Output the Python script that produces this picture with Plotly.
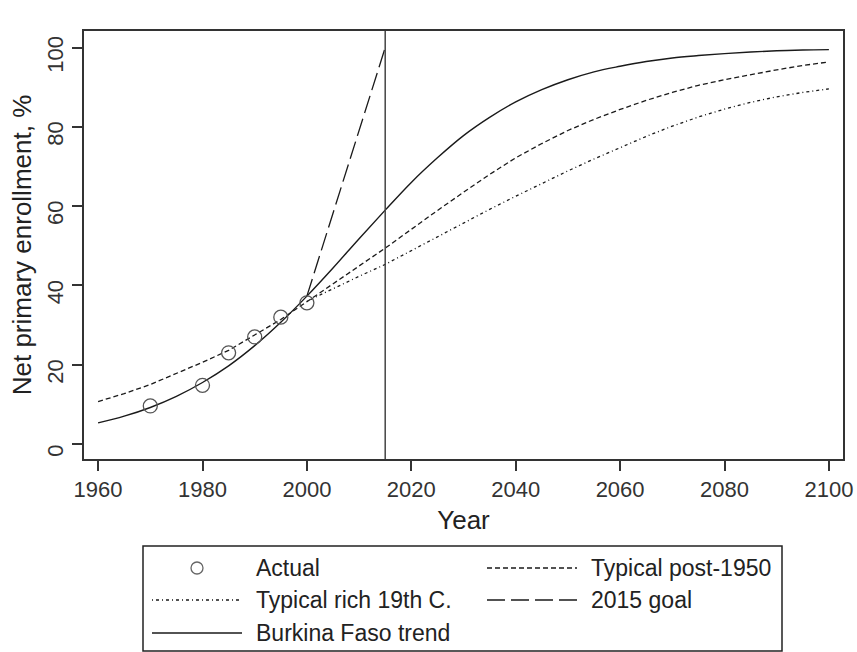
import plotly.graph_objects as go

# ---------------- data ----------------
actual_years = [1970, 1980, 1985, 1990, 1995, 2000]
actual_vals = [9.6, 14.8, 23.0, 27.0, 32.0, 35.6]

trend_years = [1960, 1965, 1970, 1975, 1980, 1985, 1990, 1995, 2000, 2005, 2010,
               2015, 2020, 2025, 2030, 2035, 2040, 2045, 2050, 2055, 2060, 2065,
               2070, 2075, 2080, 2085, 2090, 2095, 2100]
burkina_vals = [5.3, 7.0, 9.2, 12.0, 15.5, 19.7, 24.8, 30.7, 37.3, 44.4, 51.8,
                59.0, 66.0, 72.2, 77.8, 82.4, 86.3, 89.4, 91.9, 93.9, 95.3, 96.5,
                97.4, 98.0, 98.5, 98.9, 99.2, 99.4, 99.5]
post1950_vals = [10.7, 12.7, 15.0, 17.7, 20.6, 23.6, 27.4, 31.4, 35.9, 40.3, 44.9,
                 49.4, 54.2, 58.9, 63.5, 68.0, 72.2, 75.8, 79.1, 81.9, 84.4, 86.7,
                 88.7, 90.5, 91.9, 93.2, 94.4, 95.5, 96.4]

rich_years = [2000, 2005, 2010, 2015, 2020, 2025, 2030, 2035, 2040, 2045, 2050,
              2055, 2060, 2065, 2070, 2075, 2080, 2085, 2090, 2095, 2100]
rich_vals = [36.0, 39.2, 42.3, 45.3, 48.8, 52.3, 55.8, 59.2, 62.5, 65.8, 68.9,
             71.9, 74.8, 77.6, 80.2, 82.5, 84.5, 86.2, 87.6, 88.7, 89.6]

goal_years = [2000, 2015]
goal_vals = [37.3, 100]
goal_year = 2015

x_ticks = [1960, 1980, 2000, 2020, 2040, 2060, 2080, 2100]
y_ticks = [0, 20, 40, 60, 80, 100]

legend_labels = ["Actual", "Typical post-1950", "Typical rich 19th C.",
                 "2015 goal", "Burkina Faso trend"]

# ---------------- style ----------------
W, H = 857, 652
ML, MR, MT, MB = 84, 14, 31, 193
FONT = "Liberation Sans, Arial, sans-serif"
INK = "#1a1a1a"
DASH_POST = "5px,3px"
DASH_RICH = "1px,3px,3px,3px"
DASH_GOAL = "18px,6px"

fig = go.Figure()

fig.add_trace(go.Scatter(x=trend_years, y=post1950_vals, mode="lines",
                         line=dict(color=INK, width=1.3, dash=DASH_POST),
                         name=legend_labels[1], showlegend=False))
fig.add_trace(go.Scatter(x=rich_years, y=rich_vals, mode="lines",
                         line=dict(color=INK, width=1.3, dash=DASH_RICH),
                         name=legend_labels[2], showlegend=False))
fig.add_trace(go.Scatter(x=goal_years, y=goal_vals, mode="lines",
                         line=dict(color=INK, width=1.3, dash=DASH_GOAL),
                         name=legend_labels[3], showlegend=False))
fig.add_trace(go.Scatter(x=trend_years, y=burkina_vals, mode="lines",
                         line=dict(color=INK, width=1.4, shape="spline"),
                         name=legend_labels[4], showlegend=False))
fig.add_trace(go.Scatter(x=actual_years, y=actual_vals, mode="markers",
                         marker=dict(symbol="circle-open", size=14,
                                     color="#555555", line=dict(width=1.3)),
                         name=legend_labels[0], showlegend=False))

# vertical reference line at the goal year
fig.add_shape(type="line", xref="x", yref="paper", x0=goal_year, x1=goal_year,
              y0=0, y1=1, line=dict(color="#444444", width=1.5))

# ---------------- manual legend (pixel -> paper helpers) ----------------
PW = W - ML - MR
PH = H - MT - MB


def px(x):
    return (x - ML) / PW


def py(y):
    return (H - MB - y) / PH


fig.add_shape(type="rect", xref="paper", yref="paper",
              x0=px(143), x1=px(782), y0=py(546), y1=py(651),
              line=dict(color="#222222", width=1.5), fillcolor="white", layer="below")

rows = [568, 600, 633]
col_sample = [(152, 242), (487, 577)]
col_text = [254, 589]
entries = [
    (0, 0, "marker", None, legend_labels[0]),
    (1, 0, "line", DASH_POST, legend_labels[1]),
    (0, 1, "line", DASH_RICH, legend_labels[2]),
    (1, 1, "line", DASH_GOAL, legend_labels[3]),
    (0, 2, "line", "solid", legend_labels[4]),
]
for col, row, kind, dash, label in entries:
    yy = rows[row]
    xa, xb = col_sample[col]
    if kind == "marker":
        cx = 197
        fig.add_shape(type="circle", xref="paper", yref="paper",
                      x0=px(cx - 6), x1=px(cx + 6), y0=py(yy + 6), y1=py(yy - 6),
                      line=dict(color="#666666", width=1.3))
    else:
        fig.add_shape(type="line", xref="paper", yref="paper",
                      x0=px(xa), x1=px(xb), y0=py(yy), y1=py(yy),
                      line=dict(color=INK, width=1.4, dash=dash))
    fig.add_annotation(xref="paper", yref="paper", x=px(col_text[col]), y=py(yy),
                       text=label, showarrow=False, xanchor="left", yanchor="middle",
                       font=dict(family=FONT, size=23, color="#222222"))

# ---------------- axes ----------------
axis_common = dict(showline=True, linecolor="#333333", linewidth=2, mirror=True,
                   ticks="outside", ticklen=10, tickwidth=1.5, tickcolor="#333333",
                   showgrid=False, zeroline=False, automargin=False,
                   tickfont=dict(family=FONT, size=22, color="#333333"))

fig.update_xaxes(range=[1957.3, 2102.7], tickvals=x_ticks,
                 title=dict(text="Year", font=dict(family=FONT, size=26, color="#222222"),
                            standoff=9),
                 **axis_common)
fig.update_yaxes(range=[-3.8, 104.2], tickvals=y_ticks, tickangle=-90,
                 ticklabelshift=10,
                 title=dict(text="Net primary enrollment, %",
                            font=dict(family=FONT, size=26, color="#222222"),
                            standoff=4),
                 **axis_common)

fig.update_layout(width=W, height=H, margin=dict(l=ML, r=MR, t=MT, b=MB, autoexpand=False),
                  paper_bgcolor="white", plot_bgcolor="white", showlegend=False,
                  hovermode=False)

fig.write_html("out.html", config={"displayModeBar": False},
               post_script="document.body.style.margin='0';document.body.style.overflow='hidden';")
